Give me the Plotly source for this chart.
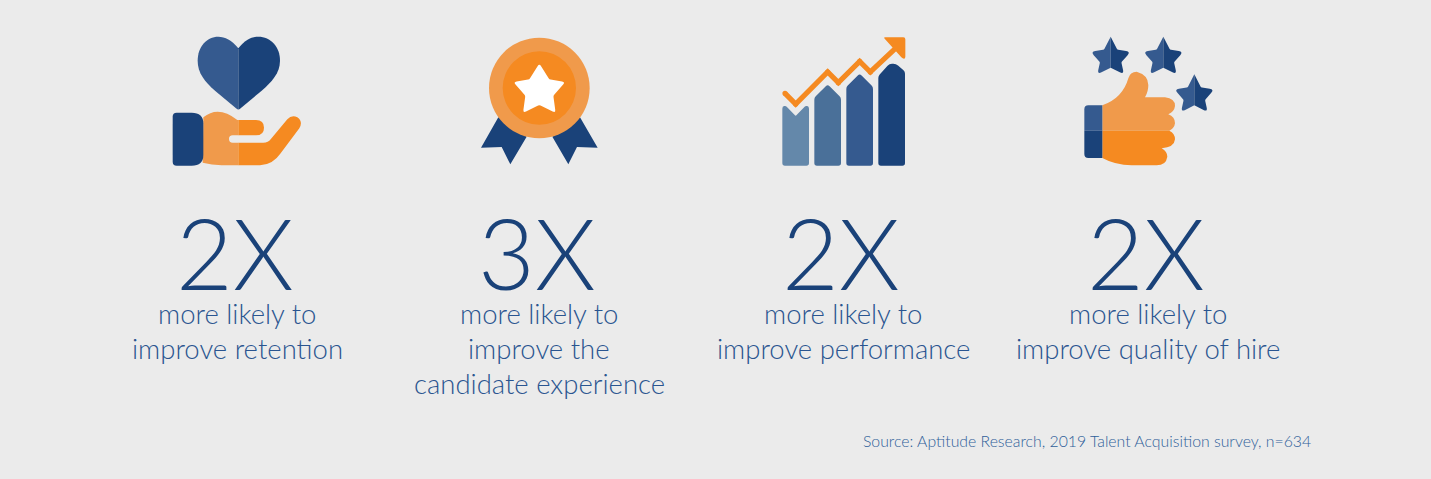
import re
import plotly.graph_objects as go

multipliers = ["2X", "3X", "2X", "2X"]
captions = [
    ["more likely to", "improve retention"],
    ["more likely to", "improve the", "candidate experience"],
    ["more likely to", "improve performance"],
    ["more likely to", "improve quality of hire"],
]
source_note = "Source: Aptitude Research, 2019 Talent Acquisition survey, n=634"

NAVY = "#1a4279"
MID = "#355a8f"
STEEL = "#4a7099"
PALE = "#6488aa"
ORANGE = "#f58a21"
PEACH = "#f09a4b"
BG = "#ebebeb"
WHITE = "#ffffff"
TEXT = "#2a5590"
FONT = "Lato"

shapes = []


def tf(path, ox, oy):
    """Convert a path sketched in 3x crop space into page pixels."""
    def pair(m):
        return f"{ox + float(m.group(1)) / 3:.2f},{oy + float(m.group(2)) / 3:.2f}"
    return re.sub(r"(-?[\d.]+),(-?[\d.]+)", pair, path)


def add(path, fill, ox, oy):
    shapes.append(dict(type="path", path=tf(path, ox, oy), fillcolor=fill,
                       line=dict(width=0), layer="above"))


def rounded(pts, r):
    """Closed path with Q-rounded corners; r is a radius or per-vertex list."""
    n = len(pts)
    rs = r if isinstance(r, list) else [r] * n
    out = []
    for i in range(n):
        p0, p1, p2 = pts[i - 1], pts[i], pts[(i + 1) % n]
        rr = rs[i]
        if rr == 0:
            out.append(("L", p1))
            continue
        def toward(a, b, d):
            dx, dy = b[0] - a[0], b[1] - a[1]
            ln = (dx * dx + dy * dy) ** 0.5
            d = min(d, ln / 2)
            return (a[0] + dx / ln * d, a[1] + dy / ln * d)
        a, b = toward(p1, p0, rr), toward(p1, p2, rr)
        out.append(("L", a))
        out.append(("Q", p1, b))
    s = ""
    for k, item in enumerate(out):
        cmd = "M" if k == 0 else item[0]
        if item[0] == "Q":
            s += f"Q{item[1][0]:.1f},{item[1][1]:.1f} {item[2][0]:.1f},{item[2][1]:.1f} "
        else:
            s += f"{cmd}{item[1][0]:.1f},{item[1][1]:.1f} "
    return s + "Z"


def circle(cx, cy, r, fill):
    shapes.append(dict(type="circle", x0=cx - r, x1=cx + r, y0=cy - r, y1=cy + r,
                       fillcolor=fill, line=dict(width=0), layer="above"))


# ---- heart in hand
O1 = (150, 20)
add("M265,85 C245,60 225,50 205,50 C170,50 143,80 143,122 C143,160 165,185 195,212 L258,265 Q265,270 265,268 Z", MID, *O1)
add("M265,85 C285,60 305,50 325,50 C362,50 390,80 390,122 C390,160 365,185 335,212 L272,265 Q265,270 265,268 Z", NAVY, *O1)
add("M160,292 Q205,255 262,300 L265,300 L265,346 L248,346 Q237,346 237,357 Q237,368 248,368 L265,368 L265,436 L215,436 Q185,435 158,428 Z", PEACH, *O1)
add("M265,300 L318,300 Q342,300 342,323 Q342,346 318,346 L265,346 Z", ORANGE, *O1)
add("M265,368 L340,368 Q355,368 362,358 L412,298 Q425,284 442,292 Q460,305 448,325 L392,400 Q368,435 330,436 L265,436 Z", ORANGE, *O1)
add("M80,278 L125,278 Q160,278 160,310 L160,405 Q160,437 125,437 L80,437 Q68,437 68,425 L68,290 Q68,278 80,278 Z", NAVY, *O1)

# ---- medal
add("M1045,292 L993,383 L1055,381 L1081,433 L1130,350 Z", NAVY, *O1)
add("M1290,292 L1343,383 L1281,381 L1255,433 L1207,350 Z", NAVY, *O1)
circle(150 + 1168 / 3, 20 + 204 / 3, 151 / 3, PEACH)
circle(150 + 1168 / 3, 20 + 204 / 3, 110 / 3, ORANGE)
star_pts = [(1168, 130), (1198, 178), (1246, 186), (1210, 227), (1217, 279),
            (1168, 255), (1119, 279), (1126, 227), (1090, 186), (1138, 178)]
add(rounded(star_pts, [10, 4, 10, 4, 10, 4, 10, 4, 10, 4]), WHITE, *O1)

# ---- bar chart with arrow
O2 = (760, 20)
add(rounded([(67, 258), (78, 258), (107, 288), (136, 258), (147, 258), (147, 437), (67, 437)],
            [8, 3, 3, 3, 8, 8, 8]), PALE, *O2)
for x0, apex, col in [(163, 195, STEEL), (259, 163, MID)]:
    add(rounded([(x0, apex + 38), (x0 + 40, apex - 2), (x0 + 80, apex + 38), (x0 + 80, 437), (x0, 437)],
                [6, 8, 6, 8, 8]), col, *O2)
add(rounded([(355, 168), (388, 131), (408, 131), (435, 155), (435, 437), (355, 437)],
            [6, 8, 8, 6, 8, 8]), NAVY, *O2)
trend = [(75, 220), (107, 252), (203, 156), (235, 188), (299, 124), (331, 156), (412, 80)]
shapes.append(dict(type="path",
                   path=tf("M" + " L".join(f"{x},{y}" for x, y in trend), *O2),
                   line=dict(color=ORANGE, width=5.2), layer="above"))
for x, y in trend[:-1]:
    circle(760 + x / 3, 20 + y / 3, 2.6, ORANGE)
add(rounded([(370, 52), (436, 52), (436, 116), (428, 116)], [6, 6, 6, 6]), ORANGE, *O2)

# ---- thumbs up with stars
star_left = [(0, -57), (-20, -18), (-60, -12), (-32, 20), (-40, 56), (0, 36)]
star_right = [(0, -57), (20, -18), (60, -12), (32, 20), (40, 56), (0, 36)]
for cx, cy in [(1052, 107), (1210, 107), (1303, 220)]:
    left = [(cx + a, cy + b) for a, b in star_left]
    right = [(cx + a, cy + b) for a, b in star_right]
    add(rounded(left, [0, 3, 14, 3, 14, 0]), MID, *O2)
    add(rounded(right, [0, 3, 14, 3, 14, 0]), NAVY, *O2)

add("M1027,256 Q1088,235 1105,175 Q1110,155 1130,155 Q1165,165 1165,195 Q1165,215 1155,232 L1215,232 Q1245,235 1245,258 Q1243,275 1225,283 Q1245,290 1245,310 Q1243,325 1228,332 L1027,332 Z", PEACH, *O2)
add("M1027,332 L1228,332 Q1245,340 1245,358 Q1243,382 1205,385 Q1222,395 1222,410 Q1218,436 1190,436 L1115,436 Q1065,435 1027,414 Z", ORANGE, *O2)
add("M985,256 L1027,256 L1027,332 L973,332 L973,268 Q973,256 985,256 Z", MID, *O2)
add("M973,332 L1027,332 L1027,414 L985,414 Q973,414 973,402 Z", NAVY, *O2)

# ---- text
centers = [237, 539, 843, 1148]
annotations = []
for cx, big, lines in zip(centers, multipliers, captions):
    annotations.append(dict(x=cx - 2, y=252, height=80, text=big, showarrow=False, xanchor="center",
                            yanchor="middle", valign="middle",
                            font=dict(family=FONT, size=98, color=NAVY, weight=300)))
    for i, line in enumerate(lines):
        annotations.append(dict(x=cx, y=313.5 + 35 * i, text=line, showarrow=False, xanchor="center",
                                yanchor="middle", font=dict(family=FONT, size=27.5, color=TEXT, weight=300)))
annotations.append(dict(x=1313, y=440.5, text=source_note, showarrow=False, xanchor="right", yanchor="middle",
                        font=dict(family=FONT, size=15.8, color="#2f5f9a", weight=300)))

fig = go.Figure()
fig.update_layout(
    width=1431, height=479, margin=dict(l=0, r=0, t=0, b=0),
    paper_bgcolor=BG, plot_bgcolor=BG, showlegend=False,
    xaxis=dict(range=[0, 1431], visible=False, fixedrange=True),
    yaxis=dict(range=[479, 0], visible=False, fixedrange=True),
    shapes=shapes, annotations=annotations,
)
fig.write_html("out.html", config=dict(displayModeBar=False),
               post_script="document.body.style.margin='0';document.body.style.background='#ebebeb';document.body.style.overflow='hidden';")
